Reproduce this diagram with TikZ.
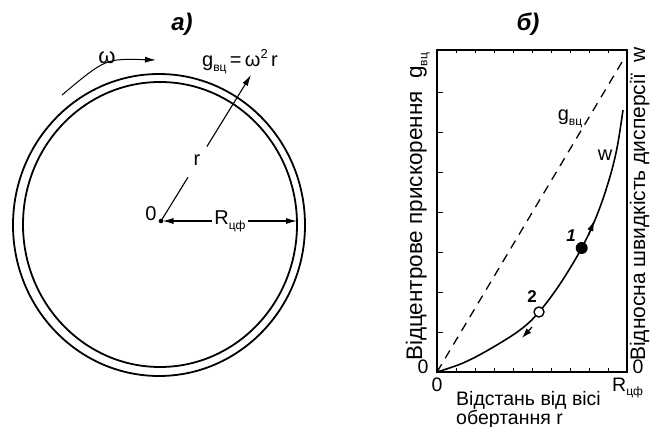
\documentclass[tikz,border=0pt]{standalone}
\usepackage{fontspec}
\setmainfont{Liberation Sans}
\usetikzlibrary{arrows.meta,calc}
\newcommand{\sbs}[1]{\raisebox{-0.45ex}{\fontsize{12}{12}\selectfont #1}}
\newcommand{\sps}[1]{\raisebox{0.85ex}{\fontsize{13}{13}\selectfont #1}}
\tikzset{
  lbl/.style={font=\fontsize{20}{20}\selectfont, inner sep=0pt},
  axlbl/.style={font=\fontsize{19.5}{19.5}\selectfont, inner sep=0pt},
  ylbl/.style={font=\fontsize{22.5}{22.5}\selectfont, inner sep=0pt},
  yrlbl/.style={font=\fontsize{21}{21}\selectfont, inner sep=0pt},
  ttl/.style={font=\fontsize{24}{24}\selectfont\bfseries\itshape, inner sep=0pt},
  numlbl/.style={font=\fontsize{17}{17}\selectfont\bfseries\itshape, inner sep=0pt},
  ring/.style={line width=1.8pt},
  frame/.style={line width=1.1pt},
  tickmark/.style={line width=0.9pt},
  curve/.style={line width=1.6pt},
  guide/.style={line width=1.3pt, dash pattern=on 9pt off 7pt},
  tipL/.style={-{Latex[length=11pt,width=6pt]}},
  tipLL/.style={{Latex[length=11pt,width=6pt]}-{Latex[length=11pt,width=6pt]}},
  smalltip/.style={-{Latex[length=10pt,width=6.5pt]}},
}
\begin{document}
\begin{tikzpicture}[x=1pt,y=-1pt]
\useasboundingbox (0,0) rectangle (650,427);
% ---------- panel a ----------
\node[ttl] (ta) at (182,24) {а)};
\draw[ring] (159,225) ellipse [x radius=146, y radius=151];
\draw[ring] (160,224.5) ellipse [x radius=137, y radius=142.5];
\coordinate (O) at (161,221);
\coordinate (rtip) at (251,75);
\coordinate (Redge) at (297,221);
\coordinate (wst) at (62,95);
\coordinate (wen) at (156,60);
\fill (O) circle (2.3);
\node[lbl] (zero) at (151,214) {0};
\draw[line width=1.1pt] (O) -- ($(O)!0.30!(rtip)$);
\draw[line width=1.1pt, tipL] ($(O)!0.51!(rtip)$) -- (rtip);
\node[lbl] (rl) at (197,160) {r};
\node[lbl, anchor=base] (gform) at (240,67) {g\sbs{вц}\,=\,ω\sps{2}\,r};
\draw[line width=1.1pt, tipLL] ($(O)+(1.5,0)$) -- (Redge);
\node[lbl, fill=white, inner sep=2pt] (Rl) at (230,221) {R\sbs{цф}};
\draw[line width=1pt, tipL] (wst) .. controls (105.5,58.5) .. (wen);
\node[lbl, font=\fontsize{22}{22}\selectfont] (om) at (107,58) {ω};
% ---------- panel b ----------
\node[ttl] (tb) at (528,24) {б)};
\draw[frame] (437,50) rectangle (627,372);
\foreach \k in {1,...,7} {
  \draw[tickmark] (437,372-40*\k) -- (443,372-40*\k);
}
\foreach \k in {1,...,9} {
  \draw[tickmark] (437+19*\k,372) -- (437+19*\k,368);
  \draw[tickmark] (437+19*\k,50) -- (437+19*\k,53);
}
\coordinate (org) at (437,372);
\coordinate (gend) at (625,57);
\draw[guide] (org) -- (gend);
\draw[curve] plot[smooth, tension=0.6] coordinates {(437,372) (463,363) (490,349) (520,330) (539,312) (560,284) (581.7,248) (597,215) (609,180) (617,148) (623,110)};
\draw[smalltip, line width=1.2pt] (588.5,235.5) -- (594,221);
\draw[smalltip, line width=1.2pt] (532,327) -- (522,338);
\fill (581.7,248) circle (6);
\draw[line width=1.4pt, fill=white] (539,312) circle (5);
\node[numlbl] (n1) at (571,236) {1};
\node[numlbl, font=\fontsize{17}{17}\selectfont\bfseries] (n2) at (532,297) {2};
\node[lbl] (gl) at (570,119) {g\sbs{вц}};
\node[lbl] (wl) at (605,155) {w};
\node[axlbl] (z1) at (423,367) {0};
\node[axlbl] (z2) at (638,367) {0};
\node[axlbl] (z3) at (437,385) {0};
\node[axlbl, anchor=base west] (Rb) at (612,391) {R\sbs{цф}};
\node[axlbl, anchor=base west] (xl1) at (456,405) {Відстань від вісі};
\node[axlbl, anchor=base west] (xl2) at (456,424) {обертання r};
\node[ylbl, rotate=90, anchor=base west] (yl) at (422,361) {Відцентрове прискорення \ g\sbs{вц}};
\node[yrlbl, rotate=90, anchor=base west] (yr) at (645,361) {Відносна швидкість дисперсії \ w};
\end{tikzpicture}
\end{document}
